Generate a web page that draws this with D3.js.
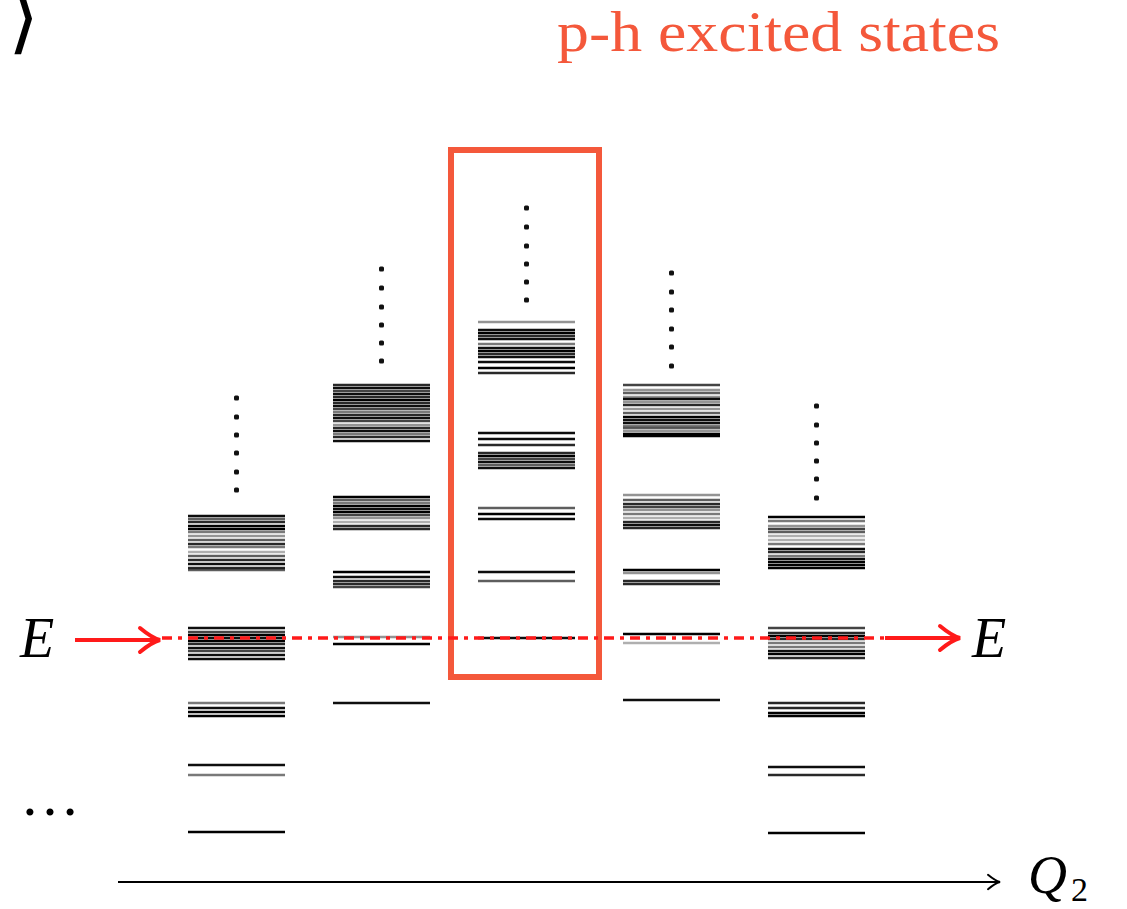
<!DOCTYPE html>
<html>
<head>
<meta charset="utf-8">
<script src="https://cdn.jsdelivr.net/npm/d3@7"></script>
<style>
  body { margin: 0; background: #fff; }
  svg text { font-family: "Liberation Serif", "DejaVu Serif", serif; }
</style>
</head>
<body>
<div id="chart"></div>
<script>
// columns along Q2, energies in arbitrary units, s = line strength (0..1)
const columns = ["q1", "q2", "q3", "q4", "q5"];

const levels1 = [
  [33.4, .9], [33.1, .6], [32.8, .8], [32.4, 1], [32.1, 1], [31.8, .5], [31.4, .4], [31.0, .6],
  [30.6, .8], [30.3, .5], [29.8, .3], [29.4, .6], [29.0, .8], [28.6, .9], [28.2, .8], [28.0, .6],
  [22.2, .9], [21.8, .7], [21.5, 1], [21.2, .9], [20.9, 1], [20.6, .8], [20.2, .9], [19.9, .7],
  [19.5, .9], [19.1, .9],
  [14.7, .5], [14.2, .9], [13.8, 1], [13.4, 1],
  [8.5, .9], [7.5, .5],
  [1.8, 1]
];
const levels2 = [
  [46.5, .8], [46.2, .9], [45.9, .7], [45.6, .9], [45.3, .8], [45.0, 1], [44.7, .8], [44.4, .9],
  [44.1, .7], [43.8, .5], [43.5, .8], [43.2, .9], [42.9, .7], [42.5, .4], [42.2, .8], [41.9, .9],
  [41.6, .5], [41.3, .8], [40.9, .9],
  [35.3, 1], [35.0, .6], [34.7, .5], [34.4, 1], [34.1, .9], [33.8, 1], [33.5, .7], [33.2, .4],
  [32.8, .3], [32.4, .8], [32.1, .8],
  [27.8, 1], [27.3, .9], [26.9, .8], [26.6, .8], [26.3, .7],
  [21.3, .4], [20.6, 1],
  [14.7, .9]
];
const levels3 = [
  [52.8, .4], [52.0, .9], [51.7, 1], [51.4, .8], [51.1, .9], [50.6, .5], [50.2, .9], [49.9, 1],
  [49.6, .8], [49.3, .9], [48.8, .9], [48.2, 1], [47.7, .8],
  [41.7, .9], [41.1, .9], [40.5, .8], [39.7, .8], [39.4, 1], [39.1, .7], [38.8, .9], [38.5, .6],
  [38.2, .9],
  [34.2, .6], [33.6, 1], [33.1, .9],
  [27.8, .9], [26.9, .6],
  [21.2, .9]
];
const levels4 = [
  [46.5, .7], [46.0, .4], [45.7, .6], [45.3, .4], [45.1, .9], [44.8, .4], [44.5, .8], [44.1, .4],
  [43.7, .6], [43.3, 1], [43.0, .9], [42.7, .9], [42.4, .5], [42.2, .6], [41.9, .4], [41.6, 1],
  [41.4, 1],
  [35.5, .4], [35.0, .6], [34.6, .8], [34.3, .7], [34.0, .4], [33.6, .5], [33.2, .3], [32.8, .8],
  [32.5, .9], [32.2, .8],
  [28.0, 1], [27.7, .4], [26.9, .8], [26.6, .8],
  [21.6, 1], [20.7, .3],
  [15.0, .9]
];
const levels5 = [
  [33.3, 1], [32.9, .5], [32.4, .4], [32.1, .7], [31.8, .6], [31.4, .3], [31.0, .3], [30.6, .5],
  [30.1, .9], [29.8, .8], [29.4, .5], [29.1, .9], [28.8, 1], [28.5, 1], [28.2, 1],
  [22.2, .7], [21.7, .8], [21.4, 1], [21.1, .8], [20.7, .5], [20.3, .5], [19.9, .9], [19.6, 1],
  [19.2, .8],
  [14.7, .8], [14.2, .8], [13.7, 1], [13.4, 1],
  [8.3, .9], [7.5, .8],
  [1.7, 1]
];
const allLevels = [levels1, levels2, levels3, levels4, levels5];

// "more states" dots above each column
const dots1 = [45.2, 43.3, 41.5, 39.7, 37.8, 36.0];
const dots2 = [58.1, 56.2, 54.3, 52.5, 50.7, 48.9];
const dots3 = [64.2, 62.3, 60.4, 58.6, 56.8, 55.0];
const dots4 = [57.7, 55.8, 54.0, 52.1, 50.3, 48.4];
const dots5 = [44.4, 42.5, 40.7, 38.9, 37.1, 35.2];
const allDots = [dots1, dots2, dots3, dots4, dots5];

const energyE = 21.2;          // the energy E
const highlight = {col: "q3", top: 70, bottom: 17.3};
const title = "p-h excited states";

const W = 1127, H = 909;
const red = "#ff1a1a", boxRed = "#f4583b";

const svg = d3.select("#chart").append("svg")
  .attr("width", W).attr("height", H);

const x = d3.scaleBand().domain(columns).range([188, 865]).paddingInner(0.331).paddingOuter(0);
const y = d3.scaleLinear().domain([0, 70]).range([850, 150]);

// energy levels
columns.forEach((c, i) => {
  svg.append("g").selectAll("line")
    .data(allLevels[i])
    .join("line")
    .attr("x1", x(c)).attr("x2", x(c) + x.bandwidth())
    .attr("y1", d => y(d[0])).attr("y2", d => y(d[0]))
    .attr("stroke", "#000")
    .attr("stroke-opacity", d => Math.min(1, d[1] * 1.05))
    .attr("stroke-width", 2.7);

  svg.append("g").selectAll("rect")
    .data(allDots[i])
    .join("rect")
    .attr("x", x(c) + x.bandwidth() / 2 - 2.5)
    .attr("y", d => y(d) - 2.5)
    .attr("width", 5).attr("height", 5)
    .attr("rx", 1.5)
    .attr("fill", "#111");
});

// highlight box
svg.append("rect")
  .attr("x", x(highlight.col) - 27)
  .attr("y", y(highlight.top))
  .attr("width", x.bandwidth() + 51)
  .attr("height", y(highlight.bottom) - y(highlight.top))
  .attr("fill", "none")
  .attr("stroke", boxRed)
  .attr("stroke-width", 6);

svg.append("text")
  .attr("x", 557).attr("y", 51)
  .attr("font-size", 58)
  .attr("textLength", 443)
  .attr("lengthAdjust", "spacingAndGlyphs")
  .attr("fill", boxRed)
  .text(title);

// energy E line
const yE = y(energyE);
svg.append("line")
  .attr("x1", 162).attr("x2", 885)
  .attr("y1", yE).attr("y2", yE)
  .attr("stroke", red).attr("stroke-width", 3.5)
  .attr("stroke-dasharray", "10,6,4,6");

function arrow(x1, x2, yy, color, sw, head) {
  svg.append("line")
    .attr("x1", x1).attr("x2", x2 - 2).attr("y1", yy).attr("y2", yy)
    .attr("stroke", color).attr("stroke-width", sw);
  svg.append("path")
    .attr("d", `M${x2 - head},${yy - head * 0.6} Q${x2 - head * 0.4},${yy - head * 0.1} ${x2},${yy} Q${x2 - head * 0.4},${yy + head * 0.1} ${x2 - head},${yy + head * 0.6}`)
    .attr("fill", "none").attr("stroke", color).attr("stroke-width", sw)
    .attr("stroke-linecap", "round");
}
arrow(75, 160, yE + 2, red, 4, 20);
arrow(885, 960, yE, red, 4, 20);

svg.append("text")
  .attr("x", 20).attr("y", yE + 19)
  .attr("font-size", 56).attr("font-style", "italic")
  .text("E");
svg.append("text")
  .attr("x", 972).attr("y", yE + 19)
  .attr("font-size", 56).attr("font-style", "italic")
  .text("E");

// Q2 axis
arrow(118, 1000, 882, "#000", 2, 12);
const q = svg.append("text")
  .attr("x", 1028).attr("y", 893)
  .attr("font-size", 54).attr("font-style", "italic");
q.append("tspan").text("Q");
q.append("tspan").attr("font-size", 34).attr("font-style", "normal")
  .attr("dx", 4).attr("dy", 8).text("2");

// ellipsis and cropped ket
svg.append("text")
  .attr("x", 20).attr("y", 815)
  .attr("font-size", 60)
  .text("…");
svg.append("text")
  .attr("x", 8).attr("y", 44)
  .attr("font-size", 80)
  .attr("font-family", "DejaVu Sans")
  .attr("font-weight", 200)
  .text("⟩");
</script>
</body>
</html>
